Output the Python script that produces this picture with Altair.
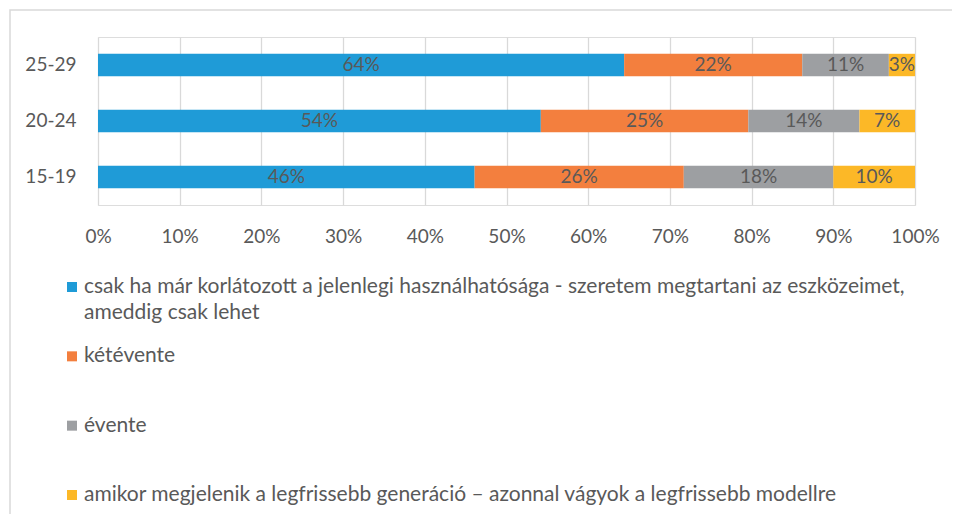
import altair as alt
import pandas as pd

ages = ["25-29", "20-24", "15-19"]
series = [
    "csak ha már korlátozott a jelenlegi használhatósága - szeretem megtartani az eszközeimet, ameddig csak lehet",
    "kétévente",
    "évente",
    "amikor megjelenik a legfrissebb generáció – azonnal vágyok a legfrissebb modellre",
]
legend_line1 = [
    "csak ha már korlátozott a jelenlegi használhatósága - szeretem megtartani az eszközeimet,",
    "kétévente",
    "évente",
    "amikor megjelenik a legfrissebb generáció – azonnal vágyok a legfrissebb modellre",
]
legend_line2 = ["ameddig csak lehet", "", "", ""]
colors = ["#1F9BD7", "#F37F3E", "#9D9FA2", "#FCB827"]

v_25_29 = [64.4, 21.8, 10.6, 3.2]
v_20_24 = [54.2, 25.4, 13.6, 6.8]
v_15_19 = [46.1, 25.6, 18.3, 10.0]
x_ticks = [0, 10, 20, 30, 40, 50, 60, 70, 80, 90, 100]

rows = []
for age, vals in zip(ages, [v_25_29, v_20_24, v_15_19]):
    for i, (s, v) in enumerate(zip(series, vals)):
        rows.append({"age": age, "series": s, "order": i, "value": v})
df = pd.DataFrame(rows)

leg = pd.DataFrame({"series": series, "line1": legend_line1, "line2": legend_line2,
                    "order": list(range(4))})

FONT = "Lato"
TXT = "#595959"

base = alt.Chart(df).transform_stack(
    stack="value", groupby=["age"], sort=[alt.SortField("order")], as_=["x0", "x1"]
).transform_calculate(mid="(datum.x0 + datum.x1) / 2")

yenc = alt.Y("age:N", sort=ages,
             scale=alt.Scale(paddingInner=0.6, paddingOuter=0.3),
             axis=alt.Axis(title=None, domain=False, ticks=False, labelPadding=22,
                           labelFontSize=19, labelColor=TXT, labelFont=FONT))

bars = base.mark_bar().encode(
    y=yenc,
    x=alt.X("x0:Q", scale=alt.Scale(domain=[0, 100], nice=False),
            axis=alt.Axis(title=None, values=x_ticks, labelExpr="datum.value + '%'",
                          domain=False, ticks=False, grid=True, gridColor="#D9D9D9",
                          gridWidth=1.3, labelPadding=22, labelFontSize=19,
                          labelFlush=False, labelColor=TXT, labelFont=FONT)),
    x2="x1:Q",
    color=alt.Color("series:N", scale=alt.Scale(domain=series, range=colors), legend=None),
)

labels = base.mark_text(baseline="middle", align="center", fontSize=19, font=FONT,
                        color=TXT).encode(
    y=alt.Y("age:N", sort=ages),
    x=alt.X("mid:Q"),
    text=alt.Text("label:N"),
).transform_calculate(label="format(datum.value, '.0f') + '%'")

legy = alt.Y("series:N", sort=series,
             scale=alt.Scale(type="point", domain=series, range=[250, 458], padding=0),
             axis=None)

leg_sq = alt.Chart(leg).mark_square(size=100, opacity=1).encode(
    y=legy, x=alt.value(-26),
    color=alt.Color("series:N", scale=alt.Scale(domain=series, range=colors), legend=None),
)
leg_t1 = alt.Chart(leg).mark_text(align="left", baseline="middle", fontSize=21,
                                  font=FONT, color=TXT).encode(
    y=legy, x=alt.value(-14), text="line1:N")
leg_t2 = alt.Chart(leg).mark_text(align="left", baseline="middle", fontSize=21,
                                  font=FONT, color=TXT, dy=26).encode(
    y=legy, x=alt.value(-14), text="line2:N")

frame = alt.Chart(pd.DataFrame({"a": [0]})).mark_rect(
    fill="white", fillOpacity=0, stroke="#D9D9D9", strokeWidth=1.5
).encode(x=alt.value(-88), x2=alt.value(1000), y=alt.value(-27), y2=alt.value(600))

top = alt.layer(bars, labels)
bottom = alt.layer(leg_sq, leg_t1, leg_t2)

chart = alt.layer(frame, top, bottom).resolve_scale(y="independent", color="shared").properties(
    width=817, height=168,
    padding={"left": 90, "top": 29, "right": 37, "bottom": 309},
    autosize=alt.AutoSizeParams(type="none"),
).configure_view(stroke=None).configure(font=FONT)

chart.save("out.html", embed_options={"renderer": "svg", "actions": False})
